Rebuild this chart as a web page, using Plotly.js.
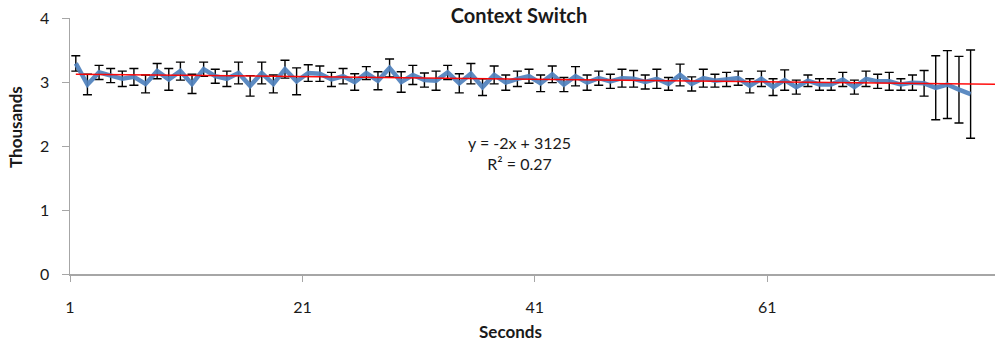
<!DOCTYPE html>
<html>
<head>
<meta charset="utf-8">
<script src="https://cdn.plot.ly/plotly-3.0.1.min.js"></script>
<style>
html,body{margin:0;padding:0;background:#fff;}
#chart{width:995px;height:347px;}
</style>
</head>
<body>
<div id="chart"></div>
<script>
// Seconds (category index) and context switches in thousands
const seconds = Array.from({length: 78}, (_, i) => i + 1);
const contextSwitches = [
  3.29, 2.96, 3.15, 3.10, 3.05, 3.08, 2.97, 3.17, 3.04, 3.17,
  2.97, 3.20, 3.09, 3.05, 3.14, 2.94, 3.14, 2.97, 3.20, 3.01,
  3.14, 3.13, 3.04, 3.09, 3.00, 3.14, 3.02, 3.22, 3.00, 3.11,
  3.03, 3.02, 3.15, 2.98, 3.13, 2.92, 3.11, 2.99, 3.05, 3.09,
  2.98, 3.12, 2.96, 3.09, 2.99, 3.06, 3.01, 3.06, 3.05, 3.00,
  3.05, 2.97, 3.11, 2.97, 3.06, 3.02, 3.04, 3.06, 2.94, 3.05,
  2.92, 3.03, 2.92, 3.02, 2.96, 2.96, 3.04, 2.92, 3.05, 3.01,
  3.01, 2.96, 2.99, 2.98, 2.91, 2.96, 2.88, 2.81
];
const errors = [
  0.12, 0.16, 0.11, 0.11, 0.12, 0.13, 0.14, 0.12, 0.17, 0.14,
  0.15, 0.11, 0.11, 0.12, 0.17, 0.16, 0.17, 0.14, 0.14, 0.21,
  0.13, 0.12, 0.11, 0.12, 0.13, 0.10, 0.14, 0.14, 0.16, 0.15,
  0.11, 0.15, 0.11, 0.15, 0.16, 0.13, 0.14, 0.12, 0.12, 0.11,
  0.13, 0.13, 0.11, 0.15, 0.12, 0.11, 0.11, 0.14, 0.13, 0.11,
  0.15, 0.10, 0.17, 0.11, 0.14, 0.10, 0.11, 0.11, 0.11, 0.12,
  0.13, 0.16, 0.11, 0.09, 0.09, 0.09, 0.11, 0.11, 0.12, 0.11,
  0.14, 0.09, 0.12, 0.20, 0.50, 0.53, 0.52, 0.69
];
const xTickLabels = ['1', '21', '41', '61'];
const yTickLabels = ['0', '1', '2', '3', '4'];
// Linear trendline as reported on the chart: y = -2x + 3125 (raw units)
const trendSlope = -2;
const trendIntercept = 3125;
const trendText = 'y = -2x + 3125<br>R² = 0.27';

const xMin = 0.5, xMax = 80.1;
const trendX = [seconds[0], xMax];
const trendY = trendX.map(x => (trendSlope * x + trendIntercept) / 1000);

const font = 'Lato, "Open Sans", sans-serif';
const textColor = '#1a1a1a';

const traces = [
  {
    x: seconds, y: contextSwitches, type: 'scatter', mode: 'markers',
    marker: {opacity: 0, size: 1},
    error_y: {type: 'data', array: errors, visible: true, color: '#000', thickness: 1.4, width: 4.5},
    hoverinfo: 'skip', showlegend: false
  },
  {
    x: seconds, y: contextSwitches, type: 'scatter', mode: 'lines',
    line: {color: 'rgba(79,129,189,0.92)', width: 4.5, shape: 'linear'},
    showlegend: false
  },
  {
    x: trendX, y: trendY, type: 'scatter', mode: 'lines',
    line: {color: 'rgba(255,0,0,0.95)', width: 1.5},
    showlegend: false
  }
];

const layout = {
  width: 995, height: 347,
  margin: {l: 70, r: 0, t: 18, b: 73, pad: 0},
  paper_bgcolor: '#fff', plot_bgcolor: '#fff',
  font: {family: font, color: textColor, size: 16},
  title: {
    text: '<b>Context Switch</b>',
    font: {family: font, size: 20, color: textColor},
    xref: 'container', yref: 'container',
    x: 519 / 995, xanchor: 'center',
    y: 1 - 16 / 347, yanchor: 'middle'
  },
  xaxis: {
    range: [xMin, xMax],
    tickmode: 'array',
    tickvals: xTickLabels.map(t => Number(t) - 0.5),
    ticktext: xTickLabels,
    ticks: 'outside', ticklen: 6, tickwidth: 1, tickcolor: '#a6a6a6',
    ticklabelshift: 5.8, ticklabelstandoff: 12,
    showline: true, linecolor: '#a6a6a6', linewidth: 1.5,
    showgrid: false, zeroline: false,
    tickfont: {family: font, size: 16, color: textColor}
  },
  yaxis: {
    range: [0, 4],
    tickmode: 'array',
    tickvals: yTickLabels.map(Number),
    ticktext: yTickLabels,
    ticks: 'outside', ticklen: 7, tickwidth: 1, tickcolor: '#a6a6a6',
    ticklabelstandoff: 9,
    showline: true, linecolor: '#a6a6a6', linewidth: 1.5,
    showgrid: false, zeroline: false,
    tickfont: {family: font, size: 16, color: textColor}
  },
  annotations: [
    {text: trendText, xref: 'paper', yref: 'paper', align: 'center',
     x: (519 - 70) / 925, y: (274 - 153) / 256, xanchor: 'center', yanchor: 'middle',
     showarrow: false, font: {family: font, size: 16, color: textColor}},
    {text: '<b>Thousands</b>', xref: 'paper', yref: 'paper', textangle: -90,
     x: (15 - 70) / 925, y: (274 - 127) / 256, xanchor: 'center', yanchor: 'middle',
     showarrow: false, font: {family: font, size: 17, color: textColor}},
    {text: '<b>Seconds</b>', xref: 'paper', yref: 'paper',
     x: (510 - 70) / 925, y: (274 - 331) / 256, xanchor: 'center', yanchor: 'middle',
     showarrow: false, font: {family: font, size: 17, color: textColor}}
  ]
};

Plotly.newPlot('chart', traces, layout, {displayModeBar: false, staticPlot: true});
</script>
</body>
</html>
